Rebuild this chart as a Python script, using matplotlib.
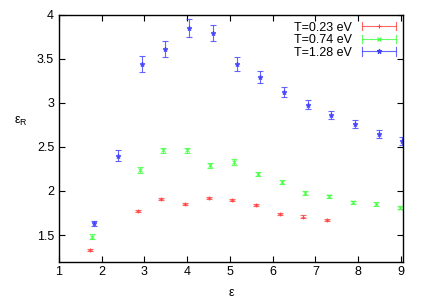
import matplotlib
matplotlib.use("Agg")
import matplotlib.pyplot as plt
from matplotlib.legend_handler import HandlerBase
from matplotlib.lines import Line2D

plt.rcParams['font.family'] = ['Liberation Sans', 'DejaVu Sans']

# T=0.23 eV
x_red = [1.72, 2.84, 3.39, 3.94, 4.50, 5.05, 5.61, 6.16, 6.71, 7.26]
y_red = [1.33, 1.775, 1.91, 1.857, 1.925, 1.90, 1.84, 1.74, 1.71, 1.67]
e_red = [0.01, 0.012, 0.012, 0.012, 0.012, 0.012, 0.012, 0.012, 0.012, 0.012]

# T=0.74 eV
x_green = [1.78, 2.89, 3.44, 4.00, 4.54, 5.10, 5.65, 6.21, 6.76, 7.32, 7.88, 8.42, 8.98]
y_green = [1.48, 2.24, 2.46, 2.46, 2.29, 2.33, 2.19, 2.10, 1.98, 1.94, 1.87, 1.85, 1.81]
e_green = [0.03, 0.035, 0.03, 0.03, 0.03, 0.03, 0.025, 0.025, 0.02, 0.02, 0.02, 0.02, 0.02]

# T=1.28 eV
x_blue = [1.83, 2.39, 2.94, 3.49, 4.05, 4.60, 5.16, 5.71, 6.26, 6.82, 7.36, 7.93, 8.48, 9.03]
y_blue = [1.635, 2.40, 3.44, 3.61, 3.85, 3.79, 3.44, 3.29, 3.12, 2.98, 2.86, 2.76, 2.65, 2.57]
e_blue = [0.03, 0.06, 0.095, 0.09, 0.1, 0.09, 0.08, 0.07, 0.055, 0.05, 0.045, 0.045, 0.045, 0.045]

labels = ["T=0.23 eV", "T=0.74 eV", "T=1.28 eV"]
xticks = [1, 2, 3, 4, 5, 6, 7, 8, 9]
yticks = [1.5, 2, 2.5, 3, 3.5, 4]
ytick_labels = ["1.5", "2", "2.5", "3", "3.5", "4"]


class HandlerGnuErr(HandlerBase):
    def __init__(self, color, marker, **kw):
        super().__init__(**kw)
        self.color = color
        self.marker = marker

    def create_artists(self, legend, orig_handle, xdescent, ydescent, width,
                       height, fontsize, trans):
        yc = height / 2 - ydescent
        x0, x1 = -xdescent, -xdescent + width
        h = 3.0
        arts = [
            Line2D([x0, x1], [yc, yc], color=self.color, lw=0.8, alpha=0.8),
            Line2D([x0, x0], [yc - h, yc + h], color=self.color, lw=0.8, alpha=0.8),
            Line2D([x1, x1], [yc - h, yc + h], color=self.color, lw=0.8, alpha=0.8),
            Line2D([(x0 + x1) / 2], [yc], marker=self.marker, color=self.color,
                   markersize=3.5, markeredgewidth=0.8, linestyle="none"),
        ]
        for a in arts:
            a.set_transform(trans)
        return arts


fig = plt.figure(figsize=(4.28, 3.0), dpi=100)
ax = fig.add_axes([59/428, 1-261.5/300, (403-59)/428, (261.5-14.7)/300])

series = [
    (x_red, y_red, e_red, "#ff4040", "+", labels[0]),
    (x_green, y_green, e_green, "#40ff40", "x", labels[1]),
    (x_blue, y_blue, e_blue, "#4040ff", "*", labels[2]),
]
handles = []
hmap = {}
for xs, ys, es, col, mk, lab in series:
    ax.errorbar(xs, ys, yerr=es, fmt=mk, color=col, ecolor=col, elinewidth=0.8,
                capsize=2.5, capthick=0.8, markersize=3.5, markeredgewidth=0.8,
                alpha=0.8)
    hd = Line2D([], [], color=col)
    handles.append(hd)
    hmap[hd] = HandlerGnuErr(col, mk)

ax.set_xlim(1, 9.05)
ax.set_ylim(1.2, 4)
ax.set_xticks(xticks)
ax.set_xticklabels([str(t) for t in xticks])
ax.set_yticks(yticks)
ax.set_yticklabels(ytick_labels)
ax.tick_params(direction="in", top=True, right=True, labelsize=9, length=4, width=0.8)
for s in ax.spines.values():
    s.set_linewidth(1.0)

ax.set_xlabel("ε", fontsize=9, labelpad=6)
ax.set_ylabel("ε$_\\mathregular{R}$", fontsize=9, rotation=0)
ax.yaxis.set_label_coords(-0.11, 0.54)

leg = ax.legend(handles, labels, handler_map=hmap, loc="upper right", frameon=False,
                fontsize=9, markerfirst=False, handlelength=2.7, handleheight=0.6,
                borderaxespad=0.35, borderpad=0.2, labelspacing=0.05, handletextpad=0.8)

fig.savefig("out.png", dpi=100)
